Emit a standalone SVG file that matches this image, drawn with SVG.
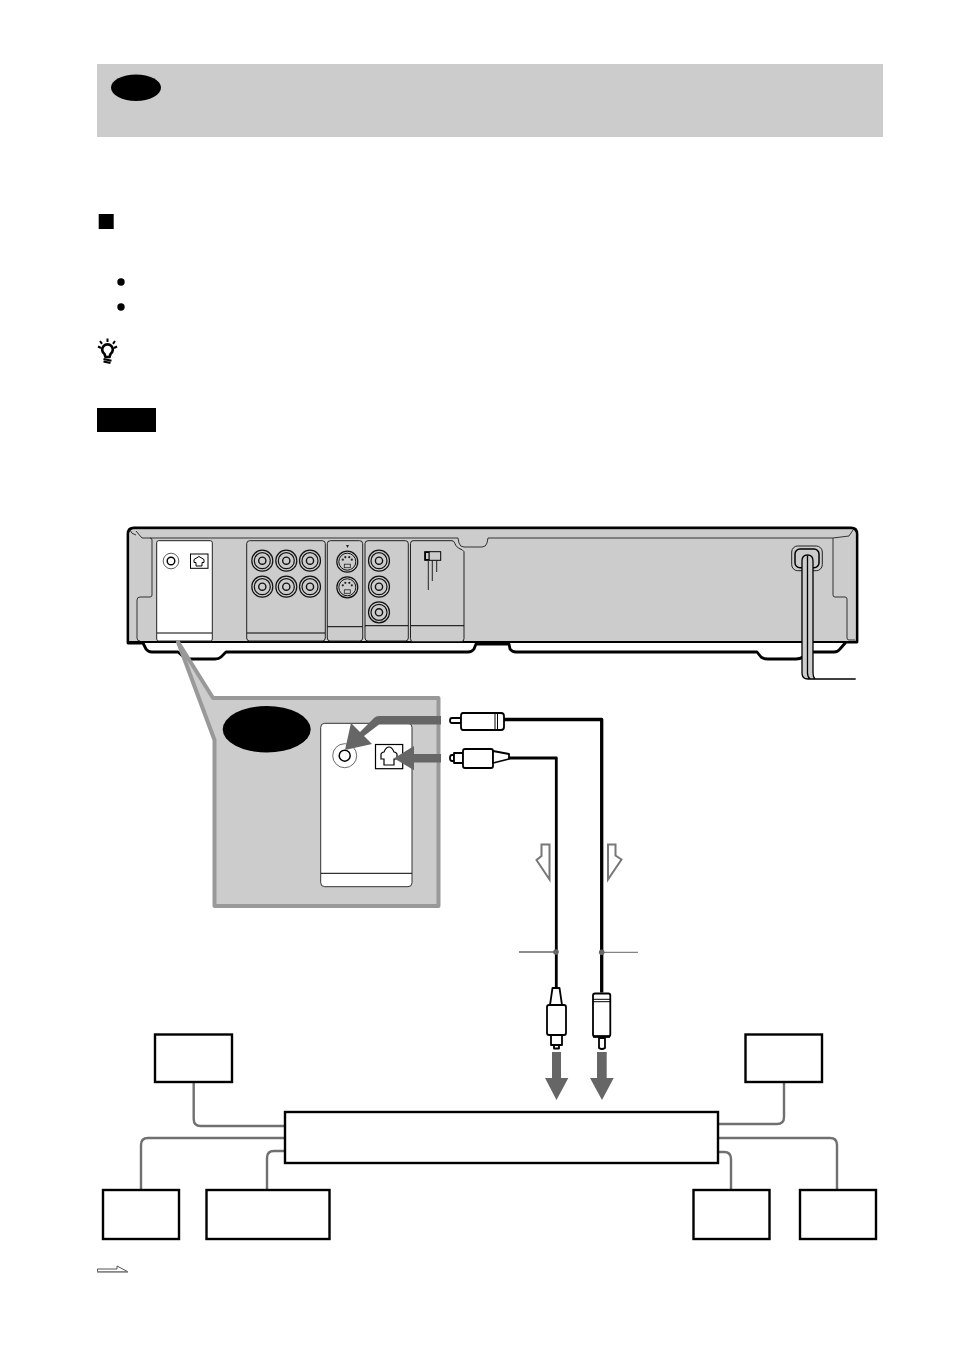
<svg xmlns="http://www.w3.org/2000/svg" width="954" height="1352" viewBox="0 0 954 1352">
<style>
.k{fill:none;stroke:#000;stroke-width:1}
.pn{fill:#ccc;stroke:#222;stroke-width:1}
.w{fill:#fff;stroke:#222;stroke-width:1}
.box{fill:#fff;stroke:#000;stroke-width:2.400}
.gl{fill:none;stroke:#707070;stroke-width:2.400}
.ca{fill:none;stroke:#000;stroke-linejoin:round}
.pl{fill:#fff;stroke:#000;stroke-width:1.800;stroke-linejoin:round}
.ga{fill:#666;stroke:none}
.ho{fill:#fff;stroke:#777;stroke-width:2}
.jo{fill:#ccc;stroke:#111;stroke-width:1.200}
</style>
<defs>
<g id="jack"><circle r="10.500" class="jo"/><circle r="8" class="jo"/><circle r="3.600" fill="#ccc" stroke="#111" stroke-width="1.400"/></g>
<g id="sv"><circle r="10.500" class="jo"/><circle r="8.500" fill="#ccc" stroke="#111" stroke-width="1"/><circle cx="-4.500" cy="-2" r="1.100" fill="#222"/><circle cx="4.500" cy="-2" r="1.100" fill="#222"/><circle cx="-2" cy="-4.500" r="1.100" fill="#222"/><circle cx="2" cy="-4.500" r="1.100" fill="#222"/><rect x="-3" y="2.500" width="6" height="3.500" fill="none" stroke="#222" stroke-width="0.800"/></g>
</defs>
<rect width="954" height="1352" fill="#fff"/>
<g id="header">
<rect x="97" y="64" width="786" height="73" fill="#ccc"/>
<ellipse cx="136" cy="87.700" rx="25" ry="13.300" fill="#000"/>
</g>
<g id="marks">
<rect x="98.700" y="214" width="15" height="15" fill="#000"/>
<circle cx="121" cy="282" r="3.700" fill="#000"/>
<circle cx="121" cy="307" r="3.700" fill="#000"/>
<g id="tip-icon" fill="none" stroke="#000">
<path d="M104.500 354a5.300 5.300 0 1 1 6 0l-1 3h-4z" stroke-width="2.600"/>
<path d="M103.500 359l8 1.800M103.500 361.500l7 1.500" stroke-width="2.200"/>
<path d="M107.500 338.500v3.500M100 341l2 2.800M115 341l-2 2.800M98 346.500l3 1.500M117 346.500l-3 1.500" stroke-width="2"/>
</g>
<rect x="97" y="408" width="59" height="24" fill="#000"/>
</g>
<g id="player">
<path d="M128 534Q128 528 134 528H851Q857 528 857 534V642H846L840 649Q838 652 834 652H808L803 657Q800 659 796 659H768Q764 659 761 657L757 652H516Q512 652 510 649L509 644H476L474 649Q472 652 468 652H226L221 657Q219 659 215 659H186L178 652H152Q148 652 146 649L143 643H128Z" fill="#fff" stroke="#000" stroke-width="2.800" stroke-linejoin="round"/>
<path d="M129.500 534Q129.500 529.500 134 529.500H851Q855.500 529.500 855.500 534V641.500H129.500Z" fill="#ccc"/>
<path d="M130 530Q131 534 136 535" fill="none" stroke="#333"/>
<path d="M136 531L142 538H150Q152 538 152 540V595Q152 597 150 597H140Q137 597 137 600V638Q137 641 140 641M150 538H458L459 543Q460 547 464 547H482Q486 547 487 543L488 538H833Q833 538 833 540V595Q833 597 835 597H845Q847 597 847 599V638Q847 640 849 640H855M853 530L849 536L833 538" fill="none" stroke="#333"/>
<path d="M129 642H856" stroke="#000" stroke-width="2" fill="none"/>
<rect x="156.700" y="540.700" width="55.600" height="100.300" rx="2" class="w"/>
<path d="M157 633h55" class="k"/>
<circle cx="171" cy="561" r="7.800" fill="#fff" stroke="#333" stroke-width="0.800"/>
<circle cx="171" cy="561" r="3.800" fill="#fff" stroke="#000" stroke-width="1.400"/>
<rect x="190.500" y="554" width="17.500" height="14.300" fill="#fff" stroke="#000"/>
<path d="M196 566v-3.500h-2v-3l5-3 5 3v3h-2v3.500z" fill="#fff" stroke="#000"/>
<rect x="246.700" y="540.700" width="78.600" height="100.300" rx="3" class="pn"/>
<path d="M247 633h78" class="k"/>
<use href="#jack" x="262.300" y="560.700"/><use href="#jack" x="286.300" y="560.700"/><use href="#jack" x="310" y="560.700"/>
<use href="#jack" x="262.300" y="586.700"/><use href="#jack" x="286.300" y="586.700"/><use href="#jack" x="310" y="586.700"/>
<rect x="327.300" y="540.700" width="35.400" height="100.300" rx="3" class="pn"/>
<path d="M327.500 626.700h35" class="k"/>
<path d="M346 545h3l-1.500 3z" fill="#222"/>
<use href="#sv" x="347.300" y="561.700"/><use href="#sv" x="347.300" y="587.300"/>
<rect x="365" y="540.700" width="43.300" height="100.300" rx="3" class="pn"/>
<path d="M365 625.700h43" class="k"/>
<use href="#jack" x="379" y="560.700"/><use href="#jack" x="379" y="586.700"/><use href="#jack" x="379" y="612.300"/>
<path d="M413 540.700h39q2 0 3 3l1 2q2 3 6 4l2 2v87q0 3-3 3h-48q-2.500 0-2.500-3v-95q0-3 2.500-3z" class="pn"/>
<path d="M411 625.700h53" class="k"/>
<rect x="424.700" y="551.700" width="16" height="8.600" fill="#ccc" stroke="#000"/>
<rect x="424.700" y="551.700" width="5" height="8.600" fill="#000"/>
<rect x="426" y="553" width="2.500" height="6" fill="#ccc"/>
<path d="M428.300 560v30M432.300 560v21M436.700 560v12" stroke="#222" fill="none"/>
<rect x="791.700" y="546" width="30.600" height="24.700" rx="6" fill="#ccc" stroke="#222"/>
<rect x="795" y="549" width="24" height="18.700" rx="5" fill="#ccc" stroke="#000" stroke-width="1.500"/>
<path d="M802 676V561Q802 555 807.500 555T813 561V679H808Q802 679 802 676Z" fill="#ccc"/>
<path d="M802 673V561Q802 555 807.500 555T813 561V673Q813 677 815 679M802 673Q802 679 808 679H855.700M807.500 556V673Q807.500 677 810 679" fill="none" stroke="#000" stroke-width="1.300"/>
</g>
<g id="callout">
<path d="M178 642l35 56h225.500v208h-224v-166z" fill="#ccc" stroke="#999" stroke-width="4" stroke-linejoin="round"/>
<ellipse cx="266.700" cy="729.300" rx="44" ry="23.300" fill="#000"/>
<rect x="320.700" y="723.300" width="91.300" height="163.400" rx="4" fill="#fff" stroke="#333"/>
<path d="M321 873.300h91" class="k"/>
<circle cx="344.700" cy="755.700" r="12" fill="#fff" stroke="#444" stroke-width="0.800"/>
<circle cx="344.700" cy="755.700" r="5.500" fill="#fff" stroke="#000" stroke-width="1.500"/>
<rect x="375.500" y="744.500" width="27.200" height="24.200" fill="#fff" stroke="#000" stroke-width="1.200"/>
<path d="M384 765v-6h-3v-5q1-2 3-2 2-5 5-5t5 5q2 0 3 2v5h-3v6z" fill="#fff" stroke="#000" stroke-width="1.200"/>
<path class="ga" d="M441 716h-62q-3 0-5 2l-14 14-9-9-6 27 27-6-8-8 15-11.500h62z"/>
<path class="ga" d="M441 754h-27v-8l-20 12.300 20 12v-7.800h27z"/>
</g>
<g id="connectors">
<path class="ca" stroke-width="3.300" d="M504 719.500h97.700v273"/>
<path class="ca" stroke-width="2.800" d="M509 758h47.300v232"/>
<path class="gl" d="M193.700 1082v37q0 7 7 7h84"/>
<path class="gl" d="M141 1190v-45q0-7 7-7h137"/>
<path class="gl" d="M267 1190v-32q0-7 7-7h11"/>
<path class="gl" d="M784 1082v35q0 7-7 7h-59"/>
<path class="gl" d="M837 1190v-45q0-7-7-7h-112"/>
<path class="gl" d="M731 1190v-31q0-7-7-7h-6"/>
<path d="M519 952h37.300" stroke="#666" stroke-width="1.600" fill="none"/>
<path d="M601.700 952.300h36.300" stroke="#666" stroke-width="1" fill="none"/>
<circle cx="556" cy="952" r="2.800" fill="#666"/>
<circle cx="601.700" cy="952.300" r="2.800" fill="#666"/>
</g>
<g id="plug-top">
<path class="pl" d="M461 718h-9q-2 0-2 2.500t2 2.500h9z"/>
<path class="pl" d="M463 713h38q3 0 3 3v11q0 3-3 3h-38q-2 0-2-3v-11q0-3 2-3z"/>
<path d="M495 713v17M497.500 713v17" stroke="#000" fill="none"/>
</g>
<g id="plug-optical">
<path class="pl" d="M454 755h-2q-2 0-2 3t2 3h2z"/>
<path class="pl" d="M454 753h9v10h-9z"/>
<path class="pl" d="M465 749h26q2 0 2 2v15q0 2-2 2h-26q-2 0-2-2v-15q0-2 2-2z"/>
<path class="pl" d="M493 751l16 3v5l-16 4z"/>
</g>
<g id="plug-left">
<path class="pl" d="M552.500 988h7l2.500 17h-12z"/>
<rect class="pl" x="547" y="1005" width="19" height="30" rx="2"/>
<path class="pl" d="M551 1035h11v10h-11z"/>
<path class="pl" d="M554 1045h5v3.500h-5z"/>
</g>
<g id="plug-right">
<rect class="pl" x="593" y="993.500" width="17.300" height="43" rx="2"/>
<path d="M593 999.300h17M593 1001.700h17" stroke="#000" fill="none"/>
<path d="M593 1036.500h17" stroke="#000" stroke-width="2.500" fill="none"/>
<path class="pl" d="M599 1038h6v10q-3 2-6 0z"/>
</g>
<g id="arrows">
<path class="ho" d="M541.500 844.500h8v35l-13-19.500 5-4z"/>
<path class="ho" d="M608 844.500h7.500v11l6 4-13.500 20z"/>
<path class="ga" d="M552 1052h9v26h7.300l-11.800 22-11.500-22h7z"/>
<path class="ga" d="M597 1052h9.700v26h7l-11.700 22-12-22h7z"/>
<path d="M97.500 1269v2.800h30.500l-11-5.800v3z" fill="#fff" stroke="#555" stroke-width="1"/>
<path d="M97 1272h31" stroke="#888" stroke-width="1.200"/>
</g>
<g id="node-main"><rect class="box" x="285" y="1112" width="433" height="51"/></g>
<g id="node-a"><rect class="box" x="155" y="1034.500" width="77" height="47.500"/></g>
<g id="node-b"><rect class="box" x="103" y="1190" width="76" height="49"/></g>
<g id="node-c"><rect class="box" x="206.500" y="1190" width="123" height="49"/></g>
<g id="node-d"><rect class="box" x="745.500" y="1034.500" width="76.500" height="47.500"/></g>
<g id="node-e"><rect class="box" x="693.500" y="1190" width="76" height="49"/></g>
<g id="node-f"><rect class="box" x="800" y="1190" width="76" height="49"/></g>
</svg>
